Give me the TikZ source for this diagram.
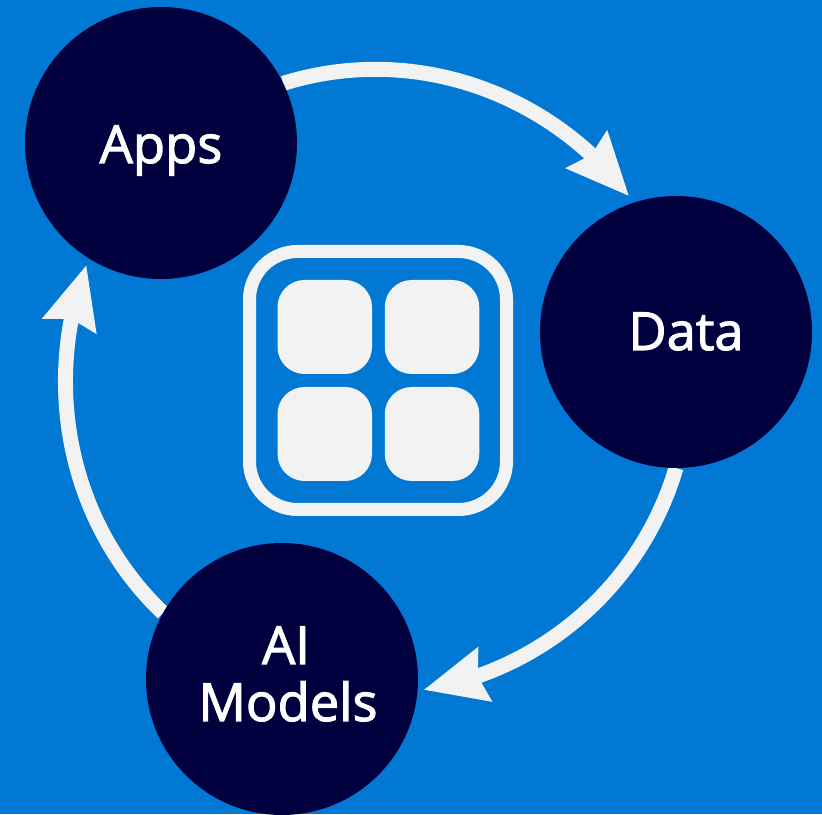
\documentclass[tikz,border=0pt]{standalone}
\usepackage{fontspec}
\setmainfont{Open Sans}[FakeBold=2]
\usetikzlibrary{arrows.meta,backgrounds,bending}
\definecolor{bluebg}{HTML}{0078D4}
\definecolor{navy}{HTML}{00003F}
\definecolor{paper}{HTML}{F2F2F2}
\tikzset{
  hub/.style={circle,fill=navy,draw=none,minimum size=272pt,inner sep=0pt,outer sep=0pt},
  hubtext/.style={text=white,font=\fontsize{52.5}{60}\selectfont,anchor=base,inner sep=0pt,align=center},
  flow/.style={draw=paper,line width=15pt,-{Stealth[length=62pt,width=53pt,inset=6pt,fill=paper,flex=1]}},
  frame/.style={draw=paper,line width=13pt,rounded corners=48pt,minimum width=257pt,minimum height=258pt,inner sep=0pt,outer sep=0pt},
  tile/.style={fill=paper,draw=none,rounded corners=27pt,minimum width=94.5pt,minimum height=94pt,inner sep=0pt,outer sep=0pt}
}
\begin{document}
\begin{tikzpicture}[x=1pt,y=1pt]
\useasboundingbox (0,0) rectangle (822,814);
\node[hub] (apps) at (161,671) {};
\node[hub] (data) at (676,482) {};
\node[hub] (ai) at (282,135) {};
\node[hubtext] (appsText) at (161,651) {Apps};
\node[hubtext] (dataText) at (686,464) {Data};
\node[hubtext] (aiText) at (286,150) {AI};
\node[hubtext] (modelsText) at (288,93) {Models};
\node[frame] (frameBox) at (378,433.5) {};
\node[tile] (t1) at (324.75,487) {};
\node[tile] (t2) at (432,487) {};
\node[tile] (t3) at (324.75,380) {};
\node[tile] (t4) at (432,380) {};
\begin{scope}[on background layer]
\fill[bluebg] (0,0) rectangle (822,814);
\draw[flow,shorten >=8pt] (apps.26) to[out=17.3,in=126.2,looseness=.944] (data.108);
\draw[flow,shorten >=6pt] (data.-90) to[out=-106.5,in=8.2,looseness=.926] (ai.-5.3);
\draw[flow,shorten >=7pt] (ai.151) to[out=136.3,in=248.5,looseness=.931] (apps.-122.2);
\end{scope}
\end{tikzpicture}
\end{document}
